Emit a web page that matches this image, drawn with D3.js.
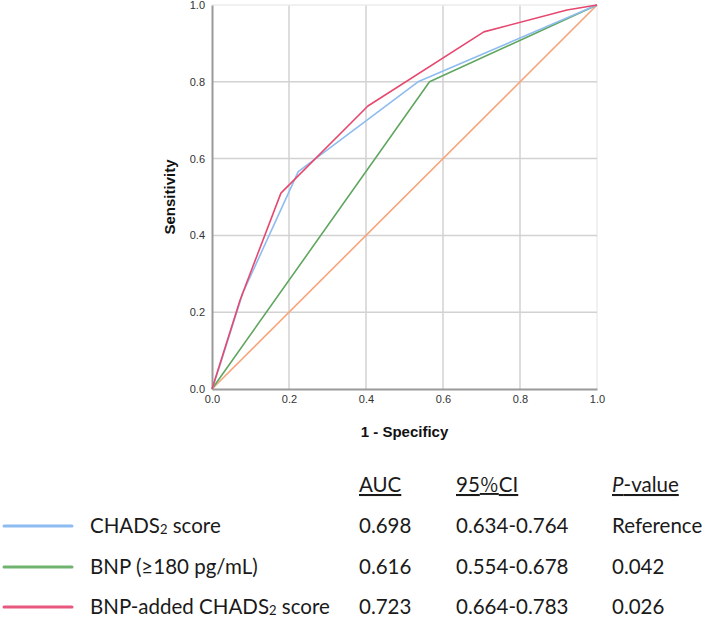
<!DOCTYPE html>
<html><head><meta charset="utf-8">
<script src="https://cdn.jsdelivr.net/npm/d3@7"></script>
<style>body{margin:0;background:#fff}svg{display:block}</style>
</head><body>
<svg id="c" width="709" height="624"></svg>
<script>
const ticks = [0, 0.2, 0.4, 0.6, 0.8, 1.0];
const chadsX = [0, 0.02, 0.08, 0.224, 0.535, 1];
const chadsY = [0, 0.06, 0.25, 0.566, 0.80, 1];
const bnpX = [0, 0.565, 1];
const bnpY = [0, 0.80, 1];
const addedX = [0, 0.073, 0.179, 0.405, 0.706, 0.922, 1];
const addedY = [0, 0.232, 0.51, 0.737, 0.93, 0.987, 1];
const refX = [0, 1];
const refY = [0, 1];
const names = ["CHADS2 score", "BNP (≥180 pg/mL)", "BNP-added CHADS2 score"];
const auc = ["0.698", "0.616", "0.723"];
const ci = ["0.634-0.764", "0.554-0.678", "0.664-0.783"];
const pval = ["Reference", "0.042", "0.026"];

const svg = d3.select("#c");
const x = d3.scaleLinear().domain([0, 1]).range([212, 597]);
const y = d3.scaleLinear().domain([0, 1]).range([389, 5]);

// grid
const g = svg.append("g");
g.selectAll(".gx").data(ticks.slice(1)).enter().append("line")
  .attr("x1", d => x(d)).attr("x2", d => x(d)).attr("y1", y(0)).attr("y2", y(1))
  .attr("stroke", d => d === 1 ? "#ececec" : "#d2d2d2").attr("stroke-width", 1.5);
g.selectAll(".gy").data(ticks.slice(1)).enter().append("line")
  .attr("y1", d => y(d)).attr("y2", d => y(d)).attr("x1", x(0)).attr("x2", x(1))
  .attr("stroke", d => d === 1 ? "#ececec" : "#d2d2d2").attr("stroke-width", 1.5);

// axes
const xAxis = d3.axisBottom(x).tickValues(ticks).tickFormat(d3.format(".1f")).tickSize(0).tickPadding(6);
const yAxis = d3.axisLeft(y).tickValues(ticks).tickFormat(d3.format(".1f")).tickSize(0).tickPadding(7);
const ax = svg.append("g").attr("transform", `translate(0,${y(0)})`).call(xAxis);
const ay = svg.append("g").attr("transform", `translate(${x(0)},0)`).call(yAxis);
[ax, ay].forEach(a => {
  a.select(".domain").attr("stroke", "#9a9a9a").attr("stroke-width", 2);
  a.selectAll("text").attr("font-family", "Liberation Sans, Arial, sans-serif")
    .attr("font-size", 11).attr("fill", "#333");
});

// curves
const line = d3.line().x(d => x(d[0])).y(d => y(d[1]));
const series = [
  {xs: refX, ys: refY, color: "#f7a47a"},
  {xs: bnpX, ys: bnpY, color: "#5fa65f"},
  {xs: chadsX, ys: chadsY, color: "#8ebcf0"},
  {xs: addedX, ys: addedY, color: "#e6486f"}
];
series.forEach(s => {
  svg.append("path").datum(s.xs.map((v, i) => [v, s.ys[i]]))
    .attr("d", line).attr("fill", "none").attr("stroke", s.color)
    .attr("stroke-width", 1.6).attr("stroke-linejoin", "round");
});

// axis titles
svg.append("text").attr("x", (x(0) + x(1)) / 2).attr("y", 437).attr("text-anchor", "middle")
  .attr("font-family", "Liberation Sans, Arial, sans-serif").attr("font-weight", "bold")
  .attr("font-size", 15).attr("fill", "#111").text("1 - Specificy");
svg.append("text").attr("transform", `translate(175,${(y(0) + y(1)) / 2}) rotate(-90)`)
  .attr("text-anchor", "middle")
  .attr("font-family", "Liberation Sans, Arial, sans-serif").attr("font-weight", "bold")
  .attr("font-size", 15).attr("fill", "#111").text("Sensitivity");

// legend table
const font = "Lato, 'Open Sans', sans-serif";
const fs = 20.5;
const colX = [359, 456, 612];
const headerY = 492;
const rowY = [533, 574, 614];
const legColors = ["#8ebcf0", "#6fb36f", "#e8587e"];

function addText(xp, yp) {
  return svg.append("text").attr("x", xp).attr("y", yp)
    .attr("font-family", font).attr("font-size", fs).attr("fill", "#1a1a1a");
}
// headers
addText(colX[0], headerY).attr("text-decoration", "underline").text("AUC");
const ch = addText(colX[1], headerY).attr("text-decoration", "underline");
ch.append("tspan").text("95");
ch.append("tspan").attr("font-family", "'Noto Sans CJK JP', sans-serif").attr("font-size", 19).text("％");
ch.append("tspan").text("CI");
const ph = addText(colX[2], headerY).attr("text-decoration", "underline");
ph.append("tspan").attr("font-style", "italic").text("P");
ph.append("tspan").text("-value");

rowY.forEach((ry, i) => {
  svg.append("line").attr("x1", 4).attr("x2", 72).attr("y1", ry - 7).attr("y2", ry - 7)
    .attr("stroke", legColors[i]).attr("stroke-width", 3).attr("stroke-linecap", "round");
  const t = addText(90, ry);
  const parts = names[i].split("CHADS2");
  if (parts.length > 1) {
    t.append("tspan").text(parts[0] + "CHADS");
    t.append("tspan").attr("font-size", 13).attr("dy", 1).text("2");
    t.append("tspan").attr("dy", -1).text(parts[1]);
  } else {
    t.text(names[i]);
  }
  addText(colX[0], ry).text(auc[i]);
  addText(colX[1], ry).text(ci[i]);
  addText(colX[2], ry).text(pval[i]);
});
</script>
</body></html>
